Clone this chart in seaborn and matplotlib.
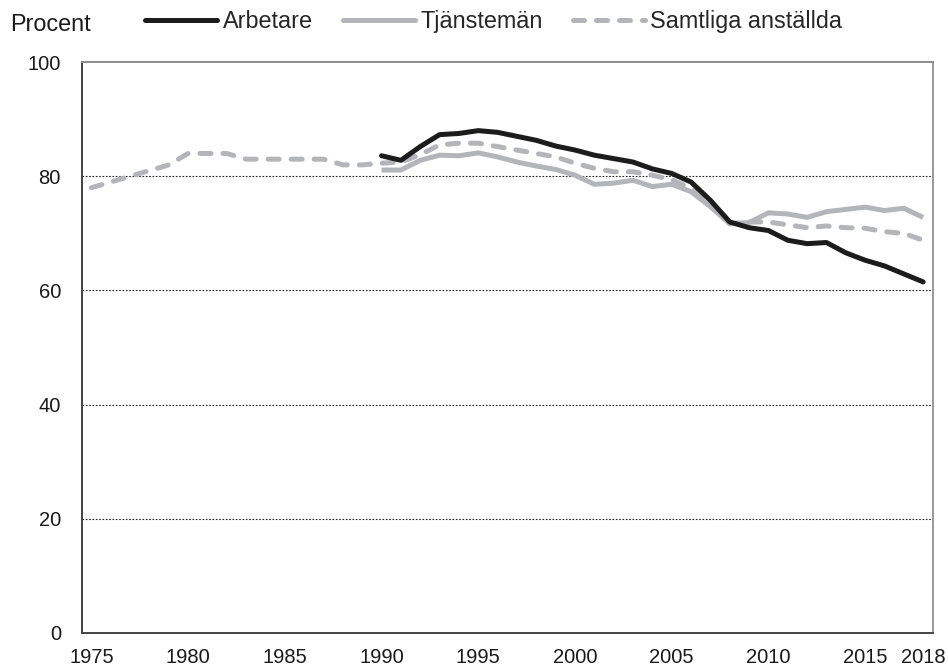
import numpy as np
import pandas as pd
import seaborn as sns
import matplotlib.pyplot as plt
from matplotlib.lines import Line2D

years_all = list(range(1975, 2019))
years_9018 = list(range(1990, 2019))

samtliga = [78.0, 79.0, 80.0, 81.0, 82.0, 84.0, 84.0, 84.0, 83.0, 83.0,
            83.0, 83.0, 83.0, 82.0, 82.0,
            82.3, 82.5, 83.8, 85.5, 85.8, 85.8, 85.2, 84.6, 84.0, 83.4,
            82.3, 81.4, 80.8, 80.8, 80.2, 79.4, 77.9, 75.3, 71.7, 72.0,
            72.0, 71.5, 71.0, 71.3, 71.0, 70.9, 70.3, 70.0, 68.8]
arbetare = [83.6, 82.8, 85.2, 87.3, 87.5, 88.0, 87.7, 87.0, 86.3, 85.3,
            84.6, 83.7, 83.1, 82.5, 81.3, 80.5, 79.0, 75.8, 72.0, 71.0,
            70.5, 68.8, 68.2, 68.4, 66.6, 65.3, 64.3, 62.9, 61.5]
tjansteman = [81.1, 81.1, 82.8, 83.7, 83.6, 84.1, 83.4, 82.5, 81.8, 81.2,
              80.2, 78.6, 78.8, 79.3, 78.2, 78.6, 77.3, 74.7, 71.7, 71.9,
              73.6, 73.4, 72.8, 73.8, 74.2, 74.6, 74.0, 74.4, 72.8]

xtick_labels = [1975, 1980, 1985, 1990, 1995, 2000, 2005, 2010, 2015, 2018]
yticks = [0, 20, 40, 60, 80, 100]

BLACK = "#1c1c1c"
GRAY = "#b4b5b8"
DASH = (0, (2.2, 2.4))

sns.set_style("white")
plt.rcParams["font.family"] = ["Liberation Sans", "DejaVu Sans"]
plt.rcParams["font.size"] = 14.5

fig = plt.figure(figsize=(9.48, 6.68), dpi=100)
ax = fig.add_axes([0.0862, 0.0524, 0.984 - 0.0862, 0.907 - 0.0524])

df_all = pd.DataFrame({"year": years_all, "value": samtliga})
df_9018 = pd.DataFrame({"year": years_9018, "arb": arbetare, "tj": tjansteman})

sns.lineplot(data=df_all, x="year", y="value", ax=ax, color=GRAY, lw=3.6,
             linestyle=DASH, dash_capstyle="round", zorder=3)
sns.lineplot(data=df_9018, x="year", y="tj", ax=ax, color=GRAY, lw=3.6,
             solid_capstyle="butt", zorder=2)
sns.lineplot(data=df_9018, x="year", y="arb", ax=ax, color=BLACK, lw=3.6,
             solid_capstyle="round", zorder=4)

ax.set_xlim(1974.5, 2018.5)
ax.set_ylim(0, 100)
ax.set_xlabel("")
ax.set_ylabel("")

ax.set_xticks(xtick_labels)
ax.set_xticklabels([str(y) for y in xtick_labels])
ax.set_xticks(np.arange(1974.5, 2019, 1.0), minor=True)
ax.tick_params(axis="x", which="major", length=0, pad=11, labelsize=14.5, colors="#1a1a1a")
ax.tick_params(axis="x", which="minor", length=5, width=1, color="#333333", direction="out")
ax.set_yticks(yticks)
ax.tick_params(axis="y", which="major", length=5, width=1, color="#333333",
               direction="out", pad=10, labelsize=14.5, labelcolor="#1a1a1a")

for y in yticks[1:-1]:
    ax.axhline(y, color="#222222", lw=0.8, ls=(0, (1.5, 1.5)), zorder=1)

ax.spines["left"].set_color("#444444")
ax.spines["bottom"].set_color("#444444")
ax.spines["top"].set_color("#8c8c8c")
ax.spines["right"].set_color("#9a9a9a")
for s in ax.spines.values():
    s.set_linewidth(1.4)

fig.text(0.011, 0.964, "Procent", fontsize=16.8, va="center", ha="left", color="#1a1a1a")

handles = [
    Line2D([], [], color=BLACK, lw=3.6, solid_capstyle="round"),
    Line2D([], [], color=GRAY, lw=3.6),
    Line2D([], [], color=GRAY, lw=3.6, linestyle=DASH, dash_capstyle="round"),
]
fig.legend(handles, ["Arbetare", "Tjänstemän", "Samtliga anställda"],
           loc="center left", bbox_to_anchor=(0.153, 0.968), ncol=3, frameon=False,
           handlelength=3.1, handletextpad=0.22, columnspacing=1.3, fontsize=16.8,
           borderaxespad=0, borderpad=0)

fig.savefig("out.png", dpi=100)
